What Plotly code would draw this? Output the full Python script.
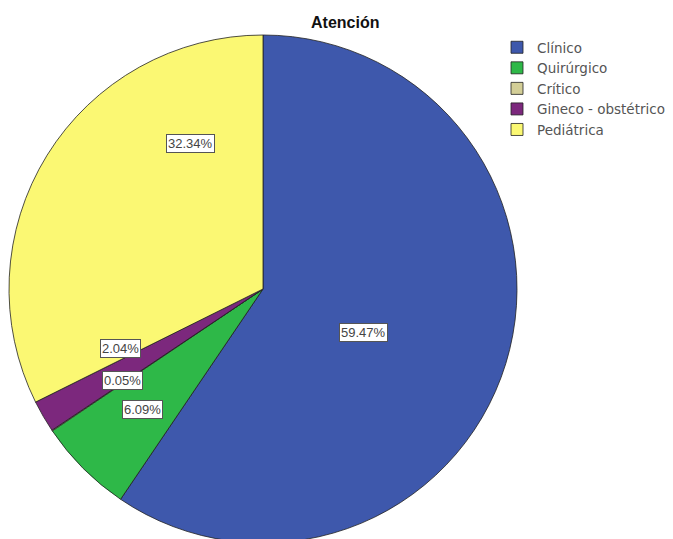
import plotly.graph_objects as go

categories = ["Clínico", "Quirúrgico", "Crítico", "Gineco - obstétrico", "Pediátrica"]
percentages = [59.47, 6.09, 0.05, 2.04, 32.34]
colors = ["#3E58AC", "#2EB848", "#D3CE97", "#7C287D", "#FBF873"]
title_text = "Atención"

W, H = 673, 539
OFF = 8  # page body margin in the browser

def px_to_paper(x, y):
    return (x - OFF) / W, 1 - (y - OFF) / H

# label box centres in screen pixels (layout only)
label_px = [(363, 332), (142, 409), (122, 380), (120, 348), (191, 144)]

top_pie, left_pie, right_pie = 35, 9, 517
diam = right_pie - left_pie
dom_x = [(left_pie - OFF) / W, (right_pie - OFF) / W]
dom_y = [1 - (top_pie - OFF + diam) / H, 1 - (top_pie - OFF) / H]

fig = go.Figure(go.Pie(
    labels=categories,
    values=percentages,
    marker=dict(colors=colors, line=dict(color="#222222", width=0.8)),
    sort=False,
    direction="clockwise",
    rotation=0,
    textinfo="none",
    hoverinfo="label+percent",
    domain=dict(x=dom_x, y=dom_y),
))

for cat, val, (sx, sy) in zip(categories, percentages, label_px):
    px, py = px_to_paper(sx, sy)
    fig.add_annotation(
        x=px, y=py, xref="paper", yref="paper", xanchor="center", yanchor="middle",
        text=f"{val:.2f}%", showarrow=False,
        font=dict(family="Liberation Sans, Arial, sans-serif", size=13, color="#444444"),
        bgcolor="white", bordercolor="#555555", borderwidth=1, borderpad=1,
    )

tx, ty = px_to_paper(345, 22)
fig.add_annotation(
    x=tx, y=ty, xref="paper", yref="paper", xanchor="center", yanchor="middle",
    text=f"<b>{title_text}</b>", showarrow=False,
    font=dict(family="Liberation Sans, Arial, sans-serif", size=16, color="#111111"),
)

lx, ly = px_to_paper(497, 32)
fig.update_layout(
    width=W, height=H,
    margin=dict(l=0, r=0, t=0, b=0),
    paper_bgcolor="white",
    plot_bgcolor="white",
    showlegend=True,
    legend=dict(
        x=lx, y=ly, xanchor="left", yanchor="top",
        font=dict(family="DejaVu Sans, Verdana, sans-serif", size=13.5, color="#555555"),
        bgcolor="rgba(0,0,0,0)", tracegroupgap=0, itemwidth=30,
    ),
)

fig.write_html("out.html")
